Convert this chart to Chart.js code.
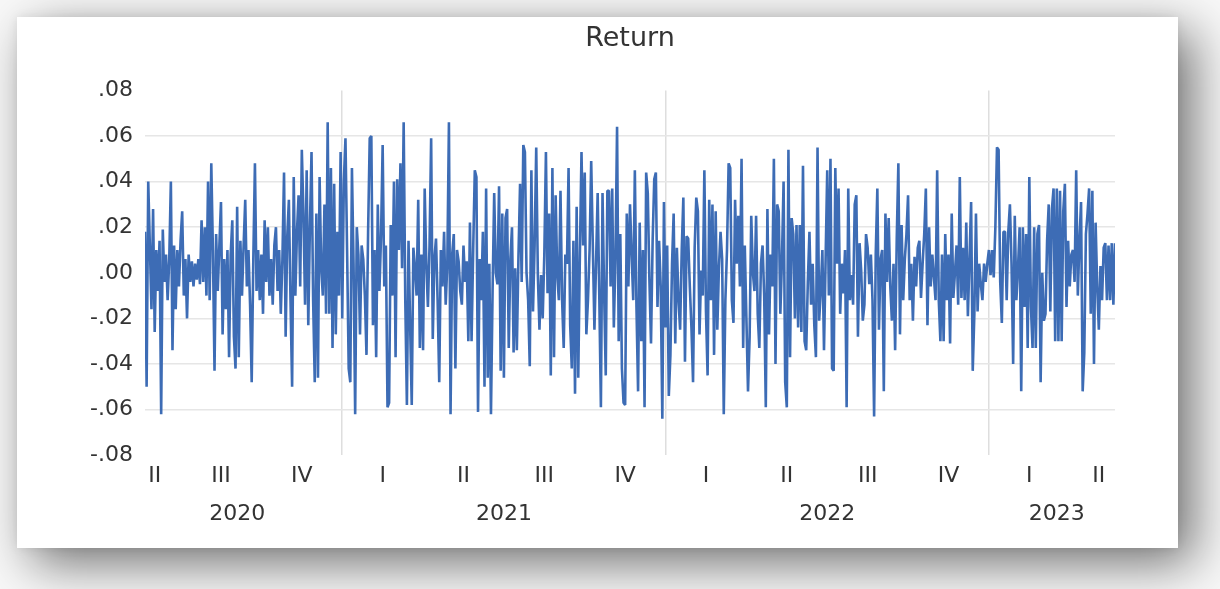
<!DOCTYPE html>
<html>
<head>
<meta charset="utf-8">
<title>Return</title>
<script src="https://cdn.jsdelivr.net/npm/chart.js@4.4.1/dist/chart.umd.min.js"></script>
<style>
  html, body { margin: 0; padding: 0; }
  body { width: 1220px; height: 589px; overflow: hidden; position: relative; background: #f8f8f8; }
  #card {
    position: absolute; left: 17px; top: 17px; width: 1161px; height: 531px; background: #ffffff;
    box-shadow: 15px 15px 48px rgba(0, 0, 0, 0.55), 0 0 10px rgba(0, 0, 0, 0.08);
  }
  #card canvas { display: block; }
</style>
</head>
<body>
<div id="card"><canvas id="returnChart" width="1161" height="531"></canvas></div>
<script>
const ret2020 = [
  0.018, -0.050, 0.040, 0.012, -0.016, 0.028, -0.026, 0.010, -0.008, 0.014,
  -0.062, 0.019, -0.004, 0.008, -0.012, 0.006, 0.040, -0.034, 0.012, -0.016,
  0.010, -0.006, 0.014, 0.027, -0.010, 0.006, -0.020, 0.008, -0.004, 0.005,
  -0.006, 0.004, -0.003, 0.006, -0.005, 0.023, -0.004, 0.020, -0.010, 0.040,
  -0.012, 0.048, 0.010, -0.043, 0.017, -0.008, 0.012, 0.031, -0.027, 0.006,
  -0.016, 0.010, -0.037, 0.008, 0.023, -0.028, -0.042, 0.029, -0.037, 0.014,
  -0.010, 0.012, 0.032, -0.006, 0.010, -0.014, -0.048, 0.006, 0.048, -0.008,
  0.010, -0.012, 0.008, -0.018, 0.023, -0.004, 0.020, -0.010, 0.006, -0.014,
  0.012, 0.020, -0.008, 0.010, -0.018, 0.006, 0.044, -0.028, 0.016, 0.032,
  -0.012, -0.050, 0.042, -0.010, 0.018, 0.034, -0.006, 0.054, 0.026, -0.014,
  0.045, -0.023, 0.020, 0.053, -0.012, -0.048, 0.026, -0.046, 0.042, 0.002,
  -0.010, 0.030, -0.018, 0.066, -0.018, 0.046, -0.033, 0.039, -0.027, 0.018,
  -0.010, 0.053
];

const ret2021 = [
  -0.020, 0.040, 0.059, 0.010, -0.042, -0.048, 0.046, 0.004, -0.062, 0.020,
  0.008, -0.027, 0.012, 0.006, -0.010, -0.036, 0.018, 0.059, 0.060, -0.023,
  0.010, -0.037, 0.030, -0.008, 0.016, 0.056, -0.006, 0.012, -0.059, -0.057,
  0.021, -0.010, 0.040, -0.037, 0.041, 0.010, 0.048, 0.002, 0.066, -0.012,
  -0.058, 0.014, -0.023, -0.058, 0.011, 0.002, -0.010, 0.032, -0.033, 0.008,
  -0.034, 0.037, 0.004, -0.015, 0.012, 0.059, -0.029, 0.006, 0.015, -0.012,
  -0.048, 0.010, -0.006, 0.018, -0.014, 0.004, 0.066, -0.062, 0.008, 0.017,
  -0.042, 0.010, 0.005, -0.008, -0.014, 0.012, -0.004, 0.005, -0.030, 0.022,
  -0.030, 0.010, 0.045, 0.042, -0.061, 0.006, -0.012, 0.018, -0.050, 0.037,
  -0.046, 0.004, -0.062, -0.008, 0.035, 0.000, -0.005, 0.038, -0.043, 0.026,
  -0.046, 0.024, 0.028, -0.033, 0.006, 0.020, -0.035, 0.002, -0.034, 0.007,
  0.039, -0.004, 0.056, 0.053, 0.000, -0.012, -0.041, 0.045, -0.017, 0.012,
  0.055, -0.001, -0.025, -0.001, -0.020, 0.008, 0.053, -0.009, 0.026, -0.045,
  0.046, -0.037, 0.034, -0.001, -0.012, 0.036, -0.012, -0.033, 0.008, 0.004,
  0.046, -0.023, -0.042, 0.014, -0.053, 0.029, -0.046, 0.008, 0.053, 0.012,
  0.044, -0.027, -0.012, 0.010, 0.049, 0.012, -0.025, 0.004, 0.035, -0.010,
  -0.059, 0.035, -0.009, -0.045, 0.036, 0.036, -0.006, 0.037, -0.024, 0.006,
  0.064, -0.030, 0.017, -0.042, -0.057, -0.058, 0.026, -0.006, 0.030, 0.008,
  -0.012, 0.045, -0.015, -0.052, 0.022, -0.030, 0.010, -0.059, 0.044, 0.035,
  -0.003, -0.031, 0.014, 0.041, 0.044, -0.015, 0.014, -0.006, -0.064, 0.031
];

const ret2022 = [
  -0.024, 0.012, -0.054, -0.036, 0.004, 0.026, -0.031, 0.011, -0.012, -0.025,
  0.010, 0.033, -0.039, 0.016, 0.015, -0.006, -0.024, -0.048, 0.011, 0.033,
  0.027, -0.027, 0.001, -0.010, 0.045, -0.017, -0.045, 0.032, -0.012, 0.030,
  -0.036, 0.027, -0.025, 0.002, 0.018, 0.006, -0.062, -0.012, 0.010, 0.048,
  0.046, -0.012, -0.022, 0.032, 0.004, 0.025, -0.006, 0.050, -0.033, 0.012,
  -0.020, -0.052, -0.028, 0.025, 0.000, -0.008, 0.025, -0.018, -0.033, 0.004,
  0.012, -0.010, -0.059, 0.028, -0.027, 0.008, -0.006, 0.050, -0.040, 0.030,
  0.027, -0.018, 0.006, 0.040, -0.048, -0.059, 0.054, -0.037, 0.024, 0.017,
  -0.020, 0.021, -0.024, 0.021, -0.026, 0.047, -0.030, -0.034, -0.004, 0.018,
  -0.014, 0.004, -0.023, -0.037, 0.055, -0.021, -0.008, 0.010, -0.034, 0.006,
  0.045, -0.010, 0.050, -0.042, -0.043, 0.046, 0.004, 0.037, -0.018, 0.004,
  -0.009, 0.010, -0.059, 0.037, -0.012, -0.001, -0.014, 0.030, 0.034, -0.028,
  0.013, 0.001, -0.021, -0.014, 0.017, 0.011, -0.005, 0.008, -0.012, -0.063,
  0.008, 0.037, -0.025, 0.006, 0.010, -0.052, 0.026, -0.004, 0.024, -0.006,
  -0.021, 0.004, -0.034, 0.015, 0.048, -0.027, 0.021, -0.012, 0.006, 0.017,
  0.034, -0.012, 0.004, -0.021, 0.007, -0.006, 0.011, 0.014, -0.011, 0.004,
  0.017, 0.037, -0.023, 0.020, -0.006, 0.008, -0.002, -0.012, 0.045, -0.012,
  -0.030, 0.008, -0.030, 0.017, -0.012, 0.008, -0.031, 0.026, -0.011, 0.000,
  0.012, -0.014, 0.042, -0.011, 0.011, -0.012, 0.022, -0.019, 0.006, 0.031,
  -0.043, -0.018, 0.026, -0.017, 0.004, -0.005, -0.012, 0.004, -0.004, 0.004
];

const ret2023 = [
  0.010, -0.001, 0.010, -0.002, 0.020, 0.055, 0.054, -0.004, -0.022, 0.018,
  0.018, -0.012, 0.018, 0.030, 0.004, -0.040, 0.025, -0.012, 0.002, 0.020,
  -0.052, 0.020, -0.015, 0.017, -0.033, 0.042, -0.015, -0.033, 0.020, -0.033,
  0.017, 0.021, -0.048, 0.000, -0.021, -0.018, 0.014, 0.030, -0.017, 0.028,
  0.037, -0.030, 0.037, -0.030, 0.036, -0.030, 0.027, 0.039, -0.015, 0.014,
  -0.006, 0.008, 0.010, -0.004, 0.045, -0.010, 0.014, 0.031, -0.052, -0.035,
  0.017, 0.026, 0.037, -0.018, 0.036, -0.040, 0.022, -0.006, -0.025, 0.003,
  -0.012, 0.011, 0.013, -0.012, 0.012, -0.012, 0.013, -0.014, 0.013
];

const quarterLabels = ["II", "III", "IV", "I", "II", "III", "IV", "I", "II", "III", "IV", "I", "II"];
const yearLabels = ["2020", "2021", "2022", "2023"];

const returns = ret2020.concat(ret2021, ret2022, ret2023);
const lastIndex = returns.length - 1;

// where each year starts (vertical separators)
const yearBreaks = [
    ret2020.length,
    ret2020.length + ret2021.length,
    ret2020.length + ret2021.length + ret2022.length
];

// label placement along the observation axis
const quarterSpots = [6, 47, 97, 147, 197, 247, 297, 347, 397, 447, 497, 547, 590];
const yearSpots = [57, 222, 422, 564];

const xTicks = quarterSpots.map((p, i) => ({ value: p, label: quarterLabels[i], line: false }))
    .concat(yearBreaks.map(p => ({ value: p, label: "", line: true })))
    .sort((a, b) => a.value - b.value);

const textColor = "#333333";
const tickFont = { family: "DejaVu Sans", size: 22 };

new Chart(document.getElementById("returnChart"), {

    type: "line",

    data: {
        datasets: [
            {
                label: "Return",
                data: returns.map((v, i) => ({ x: i, y: v })),
                borderColor: "#3d6cb5",
                borderWidth: 2.6,
                borderJoinStyle: "bevel",
                pointRadius: 0,
                tension: 0
            }
        ]
    },

    options: {

        responsive: false,
        animation: false,

        layout: {
            padding: { left: 0, right: 63, top: 0, bottom: 18 }
        },

        plugins: {
            legend: { display: false },
            tooltip: { enabled: false },
            title: {
                display: true,
                fullSize: false,
                text: "Return",
                color: textColor,
                font: { family: "DejaVu Sans", size: 27, weight: "normal" },
                padding: { top: 6, bottom: 35 }
            }
        },

        scales: {

            x: {
                type: "linear",
                min: 0,
                max: lastIndex,
                border: { display: false },
                grid: {
                    drawTicks: false,
                    lineWidth: 1.5,
                    color: ctx => (xTicks[ctx.index] && xTicks[ctx.index].line) ? "#dedede" : "rgba(0,0,0,0)"
                },
                afterBuildTicks: scale => {
                    scale.ticks = xTicks.map(t => ({ value: t.value }));
                },
                ticks: {
                    autoSkip: false,
                    maxRotation: 0,
                    padding: 8,
                    color: textColor,
                    font: tickFont,
                    callback: (value, index) => xTicks[index] ? xTicks[index].label : ""
                }
            },

            years: {
                type: "linear",
                position: "bottom",
                min: 0,
                max: lastIndex,
                border: { display: false },
                grid: { display: false, drawTicks: false },
                afterBuildTicks: scale => {
                    scale.ticks = yearSpots.map(p => ({ value: p }));
                },
                ticks: {
                    autoSkip: false,
                    maxRotation: 0,
                    padding: 3,
                    color: textColor,
                    font: tickFont,
                    callback: (value, index) => yearLabels[index]
                }
            },

            y: {
                min: -0.08,
                max: 0.08,
                border: { display: false },
                afterFit: scale => {
                    scale.width = 128;
                },
                grid: {
                    drawTicks: false,
                    lineWidth: 1.5,
                    color: ctx => (ctx.tick && Math.abs(Math.abs(ctx.tick.value) - 0.08) < 1e-6) ? "rgba(0,0,0,0)" : "#e6e6e6"
                },
                ticks: {
                    stepSize: 0.02,
                    padding: 12,
                    color: textColor,
                    font: tickFont,
                    callback: value => {
                        const v = Math.round(value * 100) / 100;
                        const s = Math.abs(v).toFixed(2).slice(1);
                        return v < 0 ? "-" + s : s;
                    }
                }
            }

        }

    }

});
</script>
</body>
</html>
